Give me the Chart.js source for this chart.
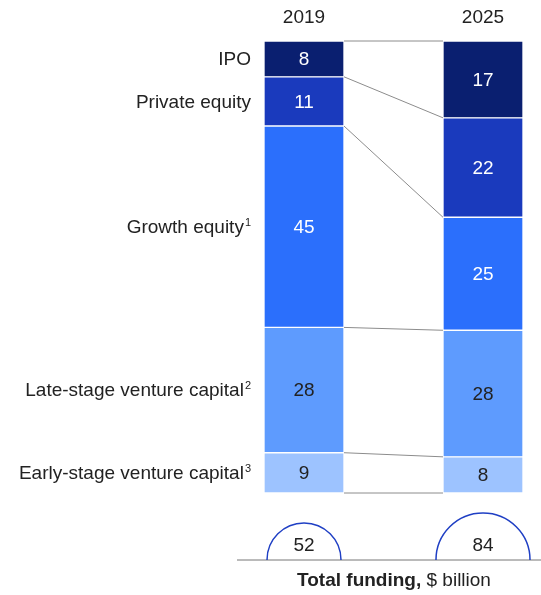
<!DOCTYPE html>
<html>
<head>
<meta charset="utf-8">
<script src="https://cdn.jsdelivr.net/npm/chart.js@4"></script>
<style>
  html, body { margin: 0; padding: 0; background: #fff; }
  #wrap { width: 541px; height: 595px; }
</style>
</head>
<body>
<div id="wrap"><canvas id="fundingChart" width="541" height="595"></canvas></div>
<script>
// data (share of total funding, %), top segment first
const years = ['2019', '2025'];
const categories = ['IPO', 'Private equity', 'Growth equity', 'Late-stage venture capital', 'Early-stage venture capital'];
const footnotes = ['', '', '1', '2', '3'];
const ipo = [8, 17];
const privateEquity = [11, 22];
const growthEquity = [45, 25];
const lateStage = [28, 28];
const earlyStage = [9, 8];
const totalFunding = [52, 84]; // $ billion

const seriesValues = [ipo, privateEquity, growthEquity, lateStage, earlyStage];
const colors = ['#0a1f70', '#1a3abd', '#2b6ffc', '#5e9bfe', '#9dc3ff'];
const labelColors = ['#fff', '#fff', '#fff', '#222', '#222'];
const FONT = '"Liberation Sans", Arial, sans-serif';

// each column is scaled to 100 so both bars have the same height
const columnTotals = years.map((y, i) => seriesValues.reduce((s, arr) => s + arr[i], 0));

// chart.js stacks from the first dataset upward, so the bottom segment goes first
const datasets = seriesValues.map((vals, k) => ({
    label: categories[k],
    data: vals.map((v, i) => v / columnTotals[i] * 100),
    raw: vals,
    cat: k,
    backgroundColor: colors[k],
    borderColor: '#ffffff',
    borderWidth: 1,
    borderSkipped: false,
    barThickness: 80,
    clip: false
})).reverse();

const extrasPlugin = {
    id: 'extras',
    afterDatasetsDraw(chart) {
        const ctx = chart.ctx;
        const xs = chart.scales.x;
        const metas = chart.data.datasets.map((d, k) => chart.getDatasetMeta(k));

        ctx.save();
        // year labels over the bars
        ctx.fillStyle = '#222';
        ctx.font = '19px ' + FONT;
        ctx.textAlign = 'center';
        ctx.textBaseline = 'middle';
        years.forEach((y, i) => ctx.fillText(y, xs.getPixelForValue(i), 18));

        // connector lines between the two bars
        ctx.strokeStyle = '#8c8c8c';
        ctx.lineWidth = 1;
        metas.forEach((meta, k) => {
            const a = meta.data[0], b = meta.data[1];
            const ys = k === metas.length - 1 ? [[a.y, b.y], [a.base, b.base]] : [[a.base, b.base]];
            ys.forEach(([ya, yb]) => {
                ctx.beginPath();
                ctx.moveTo(a.x + a.width / 2, ya);
                ctx.lineTo(b.x - b.width / 2, yb);
                ctx.stroke();
            });
        });

        // values inside segments
        metas.forEach((meta, k) => {
            const ds = chart.data.datasets[k];
            meta.data.forEach((bar, i) => {
                ctx.font = '19px ' + FONT;
                ctx.textAlign = 'center';
                ctx.fillStyle = labelColors[ds.cat];
                ctx.fillText(String(ds.raw[i]), bar.x, (bar.y + bar.base) / 2 + 1);
            });
        });

        // category names at the left of the 2019 bar
        metas.forEach((meta, k) => {
            const c = chart.data.datasets[k].cat;
            const bar = meta.data[0];
            const yMid = (bar.y + bar.base) / 2 + 1;
            let x = bar.x - bar.width / 2 - 13;
            ctx.fillStyle = '#222';
            ctx.textAlign = 'right';
            if (footnotes[c]) {
                ctx.font = '11px ' + FONT;
                ctx.fillText(footnotes[c], x, yMid - 5);
                x -= ctx.measureText(footnotes[c]).width + 1;
            }
            ctx.font = '19px ' + FONT;
            ctx.fillText(categories[c], x, yMid);
        });

        // total funding half circles (area proportional to total)
        const baseY = 560;
        ctx.strokeStyle = '#777';
        ctx.lineWidth = 1;
        ctx.beginPath();
        ctx.moveTo(237, baseY);
        ctx.lineTo(chart.width, baseY);
        ctx.stroke();
        const k = 37 / Math.sqrt(totalFunding[0]);
        years.forEach((y, i) => {
            const cx = xs.getPixelForValue(i);
            const r = k * Math.sqrt(totalFunding[i]);
            ctx.strokeStyle = '#1f3fc4';
            ctx.lineWidth = 1.5;
            ctx.beginPath();
            ctx.arc(cx, baseY, r, Math.PI, 2 * Math.PI);
            ctx.stroke();
            ctx.fillStyle = '#222';
            ctx.textAlign = 'center';
            ctx.font = '19px ' + FONT;
            ctx.fillText(String(totalFunding[i]), cx, baseY - 14);
        });

        // title under the circles
        ctx.textAlign = 'left';
        ctx.font = 'bold 19px ' + FONT;
        const t1 = 'Total funding,';
        const w1 = ctx.measureText(t1).width;
        ctx.font = '19px ' + FONT;
        const t2 = ' $ billion';
        const w2 = ctx.measureText(t2).width;
        const start = 394 - (w1 + w2) / 2;
        ctx.font = 'bold 19px ' + FONT;
        ctx.fillText(t1, start, 581);
        ctx.font = '19px ' + FONT;
        ctx.fillText(t2, start + w1, 581);
        ctx.restore();
    }
};

new Chart(document.getElementById('fundingChart'), {
    type: 'bar',
    data: { labels: years, datasets: datasets },
    options: {
        responsive: false,
        animation: false,
        layout: { padding: { left: 304, right: 58, top: 41, bottom: 102 } },
        scales: {
            x: {
                stacked: true,
                display: false,
                offset: false
            },
            y: {
                stacked: true,
                display: false,
                min: 0,
                max: 100
            }
        },
        plugins: {
            legend: { display: false },
            tooltip: { enabled: false }
        }
    },
    plugins: [extrasPlugin]
});
</script>
</body>
</html>
